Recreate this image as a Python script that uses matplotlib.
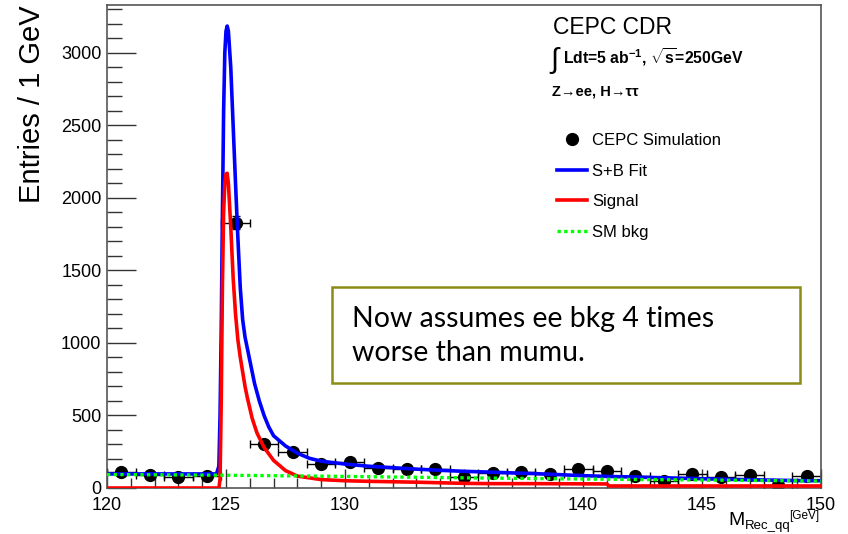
import numpy as np
import matplotlib
matplotlib.use("Agg")
import matplotlib.pyplot as plt
from matplotlib.lines import Line2D
from matplotlib.patches import Rectangle

plt.rcParams['font.family'] = ['Liberation Sans', 'DejaVu Sans']
plt.rcParams['mathtext.fontset'] = 'custom'
plt.rcParams['mathtext.rm'] = 'Liberation Sans'
plt.rcParams['mathtext.bf'] = 'Liberation Sans:bold'
plt.rcParams['mathtext.it'] = 'Liberation Sans:italic'

# ---------------- data ----------------
bin_centers = [120.6, 121.8, 123.0, 124.2, 125.4, 126.6, 127.8, 129.0, 130.2,
               131.4, 132.6, 133.8, 135.0, 136.2, 137.4, 138.6, 139.8, 141.0,
               142.2, 143.4, 144.6, 145.8, 147.0, 148.2, 149.4]
entries = [112, 90, 74, 83, 1830, 301, 250, 165, 182,
           136, 129, 131, 78, 106, 113, 97, 131, 117,
           83, 48, 97, 74, 90, 18, 83]
bin_half_width = 0.6

fit_x = [120.0, 124.6, 124.7, 124.75, 124.8, 124.85, 124.9, 124.95, 125.0, 125.05,
         125.1, 125.2, 125.3, 125.4, 125.5, 125.6, 125.7, 125.8, 125.9, 126.0,
         126.2, 126.4, 126.6, 126.8, 127.0, 127.5, 128.0, 128.5, 129.0, 130.0,
         131.0, 132.0, 133.0, 134.0, 135.0, 136.0, 137.0, 138.0, 139.0, 140.0,
         141.0, 142.0, 143.0, 144.0, 145.0, 146.0, 147.0, 148.0, 149.0, 150.0]
fit_sb = [97, 97, 150, 500, 1100, 1900, 2600, 3000, 3150, 3185,
          3150, 2900, 2500, 2100, 1720, 1380, 1160, 1040, 960, 880,
          720, 600, 500, 420, 360, 290, 240, 205, 185, 165,
          150, 140, 130, 122, 115, 110, 104, 99, 92, 85,
          80, 76, 72, 68, 64, 60, 57, 54, 51, 50]
sig_x = [120.0, 124.7, 124.75, 124.8, 124.85, 124.9, 124.95, 125.0, 125.05, 125.1,
         125.2, 125.3, 125.4, 125.5, 125.6, 125.7, 125.8, 125.9, 126.0, 126.1,
         126.3, 126.6, 127.0, 127.5, 128.0, 129.0, 130.0, 131.0, 132.0, 133.0,
         134.0, 135.0, 136.2, 138.0, 141.0, 141.1, 145.0, 150.0]
sig_y = [0, 0, 60, 600, 1400, 1900, 2100, 2165, 2170, 2100,
         1800, 1450, 1200, 1020, 900, 800, 700, 620, 550, 480,
         380, 280, 190, 120, 82, 58, 50, 46, 43, 40,
         36, 32, 30, 30, 28, 14, 14, 14]
bkg_x = [120, 125, 130, 135, 140, 145, 150]
bkg_y = [93, 88, 80, 70, 62, 55, 48]

x_ticks = [120, 125, 130, 135, 140, 145, 150]
y_ticks = [0, 500, 1000, 1500, 2000, 2500, 3000]

W, H = 848, 534
fig = plt.figure(figsize=(W / 100, H / 100), dpi=100)
ax = fig.add_axes([107 / W, 1 - 488 / H, (821 - 107) / W, (488 - 5) / H])

yerr = np.sqrt(np.array(entries, dtype=float))
ax.errorbar(bin_centers, entries, xerr=bin_half_width, yerr=yerr, fmt='o',
            color='black', ms=8.5, elinewidth=1, capsize=3, capthick=1, zorder=2)
ax.plot(fit_x, fit_sb, color='#0000ff', lw=2.6, zorder=3)
ax.plot(sig_x, sig_y, color='#ff0000', lw=2.6, zorder=4)
ax.plot(bkg_x, bkg_y, color='#00ff00', lw=2.4, linestyle=(0, (1, 1)), zorder=5)

ax.set_xlim(120, 150)
ax.set_ylim(0, 3330)
ax.set_xticks(x_ticks)
ax.set_yticks(y_ticks)
ax.set_xticks(np.arange(120, 151, 1), minor=True)
ax.set_yticks(np.arange(0, 3331, 100), minor=True)
ax.tick_params(axis='both', which='both', direction='in', colors='#333333',
               labelcolor='black', labelsize=13, top=False, right=False)
ax.tick_params(axis='x', which='major', length=14, width=1, pad=6.5)
ax.tick_params(axis='x', which='minor', length=7, width=1)
ax.tick_params(axis='y', which='major', length=21, width=1, pad=4)
ax.tick_params(axis='y', which='minor', length=11, width=1)
for s in ax.spines.values():
    s.set_color('#555555')
    s.set_linewidth(1.2)

# y label
fig.text(32 / W, 1 - 5 / H, 'Entries / 1 GeV', rotation=90, ha='center', va='top',
         fontsize=21)

# x label built from three pieces: M, subscript, superscript
renderer = fig.canvas.get_renderer()
t_sup = fig.text(819 / W, 1 - 519 / H, '[GeV]', ha='right', va='baseline',
                 fontsize=8.5)
bb_sup = t_sup.get_window_extent(renderer)
t_sub = fig.text((bb_sup.x0 + 2) / W, 1 - 529 / H, 'Rec_qq', ha='right',
                 va='baseline', fontsize=9.5)
bb_sub = t_sub.get_window_extent(renderer)
fig.text((bb_sub.x0 - 0.5) / W, 1 - 525 / H, 'M', ha='right', va='baseline',
         fontsize=14)

# header texts
fig.text(553 / W, 1 - 34 / H, 'CEPC CDR', ha='left', va='baseline', fontsize=16.5)
fig.text(549 / W, 1 - 61 / H, r'$\int$', ha='left', va='center', fontsize=21,
         family=['DejaVu Sans'])
fig.text(563 / W, 1 - 63 / H,
         r'Ldt=5 ab$^{\mathbf{-1}}$, $\mathbf{\sqrt{s}}$=250GeV',
         ha='left', va='baseline', fontsize=11.3, fontweight='bold')
fig.text(552 / W, 1 - 95 / H, 'Z→ee, H→ττ', ha='left', va='baseline', fontsize=10.5,
         fontweight='bold', family=['Liberation Sans', 'DejaVu Sans'])

# legend
handles = [
    Line2D([], [], marker='o', color='black', ms=8.5, linestyle='none'),
    Line2D([], [], color='#0000ff', lw=2.6),
    Line2D([], [], color='#ff0000', lw=2.6),
    Line2D([], [], color='#00ff00', lw=2.4, linestyle=(0, (1, 1))),
]
labels = ['CEPC Simulation', 'S+B Fit', 'Signal', 'SM bkg']
fig.legend(handles, labels, loc='upper left', bbox_to_anchor=(557 / W, 1 - 133 / H),
           bbox_transform=fig.transFigure, frameon=False, fontsize=12,
           handlelength=1.8, handletextpad=0.3, labelspacing=0.93,
           borderpad=0, borderaxespad=0)

# annotation box
fig.patches.append(Rectangle((332 / W, 1 - 383 / H), (800 - 332) / W, (383 - 287) / H,
                             transform=fig.transFigure, facecolor='white',
                             edgecolor='#8c8c14', lw=1.8, zorder=10))
fig.text(352 / W, 1 - 327 / H, 'Now assumes ee bkg 4 times', ha='left',
         va='baseline', fontsize=20.5, family=['Lato', 'DejaVu Sans'], zorder=11)
fig.text(352 / W, 1 - 361 / H, 'worse than mumu.', ha='left',
         va='baseline', fontsize=20.5, family=['Lato', 'DejaVu Sans'], zorder=11)

fig.savefig('out.png', dpi=100)
